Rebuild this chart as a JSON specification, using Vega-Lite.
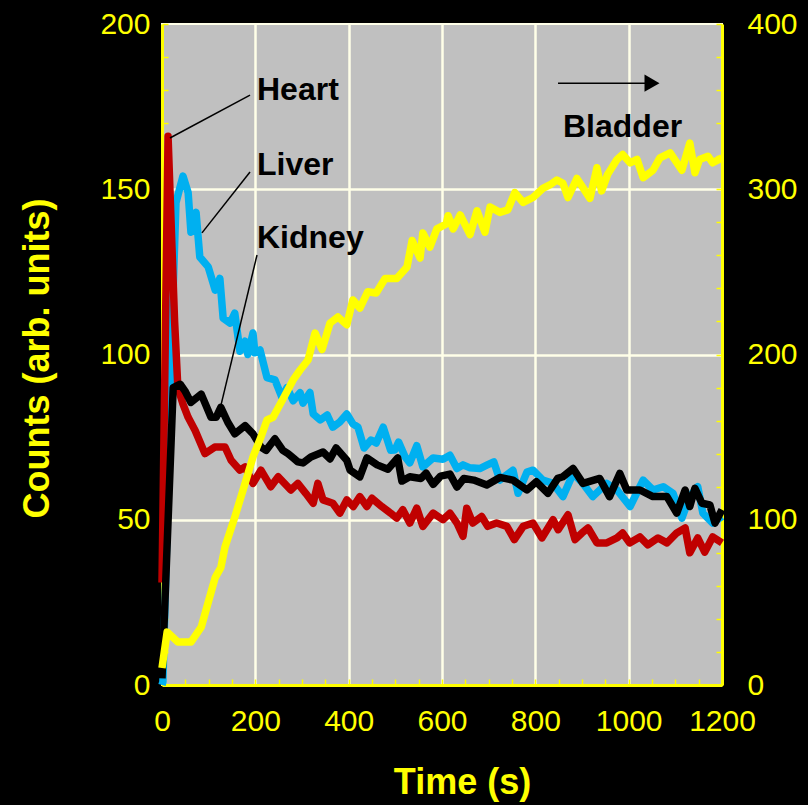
{
  "$schema": "https://vega.github.io/schema/vega-lite/v6.json",
  "width": 560,
  "height": 661,
  "autosize": {"type": "none"},
  "padding": {"left": 162, "top": 24, "right": 86, "bottom": 120},
  "background": "black",
  "config": {
    "view": {"fill": "#c0c0c0", "stroke": "#ffffe8", "strokeWidth": 2},
    "axis": {
      "labelFont": "Liberation Sans", "labelFontSize": 30, "labelColor": "#ffff00",
      "titleFont": "Liberation Sans", "titleFontSize": 36, "titleFontWeight": "bold", "titleColor": "#ffff00",
      "domainColor": "#ffff00", "domainWidth": 3, "tickColor": "#ffff00", "tickWidth": 1.5, "tickSize": -6,
      "gridColor": "#ffffe8", "gridWidth": 2.5, "labelOverlap": false, "labelBound": false, "labelFlush": false
    }
  },
  "datasets": {
    "heart": [{"t":0,"v":31},{"t":13,"v":166},{"t":27,"v":110},{"t":34,"v":90},{"t":45,"v":85},{"t":56,"v":81},{"t":71,"v":77},{"t":92,"v":70},{"t":113,"v":72},{"t":135,"v":72},{"t":148,"v":68},{"t":167,"v":65},{"t":178,"v":66},{"t":195,"v":61},{"t":212,"v":65},{"t":233,"v":60},{"t":249,"v":63},{"t":276,"v":59},{"t":291,"v":61},{"t":308,"v":58},{"t":324,"v":55},{"t":334,"v":61},{"t":345,"v":56},{"t":366,"v":55},{"t":381,"v":52},{"t":396,"v":56},{"t":410,"v":54},{"t":424,"v":57},{"t":439,"v":54},{"t":450,"v":56.5},{"t":471,"v":54},{"t":490,"v":52},{"t":503,"v":50.5},{"t":516,"v":53},{"t":531,"v":49},{"t":546,"v":53.5},{"t":559,"v":48},{"t":581,"v":52},{"t":602,"v":50},{"t":617,"v":52},{"t":632,"v":49},{"t":645,"v":45},{"t":653,"v":53.5},{"t":666,"v":49},{"t":685,"v":51},{"t":698,"v":48},{"t":717,"v":49},{"t":739,"v":48},{"t":755,"v":44},{"t":774,"v":48},{"t":795,"v":49},{"t":814,"v":44.5},{"t":838,"v":50},{"t":849,"v":47},{"t":870,"v":51.5},{"t":885,"v":44},{"t":900,"v":46},{"t":913,"v":47.5},{"t":932,"v":43},{"t":953,"v":43},{"t":975,"v":44.5},{"t":987,"v":46},{"t":1002,"v":43},{"t":1024,"v":44.8},{"t":1041,"v":42.4},{"t":1063,"v":44.5},{"t":1082,"v":43},{"t":1103,"v":46},{"t":1121,"v":47.5},{"t":1131,"v":40},{"t":1148,"v":44.5},{"t":1163,"v":40.2},{"t":1180,"v":44.8},{"t":1200,"v":43}],
    "liver": [{"t":0,"v":0},{"t":2,"v":1},{"t":17,"v":80},{"t":24,"v":120},{"t":30,"v":146},{"t":45,"v":154},{"t":56,"v":149},{"t":62,"v":137},{"t":73,"v":143},{"t":81,"v":129.5},{"t":99,"v":126.5},{"t":114,"v":119.5},{"t":124,"v":123},{"t":131,"v":111},{"t":146,"v":109.5},{"t":156,"v":112.5},{"t":167,"v":101},{"t":178,"v":104},{"t":184,"v":100},{"t":195,"v":106.5},{"t":199,"v":100.5},{"t":210,"v":101.4},{"t":225,"v":93},{"t":242,"v":92.3},{"t":257,"v":87},{"t":268,"v":90},{"t":281,"v":86},{"t":296,"v":88.4},{"t":302,"v":85.3},{"t":317,"v":88.5},{"t":324,"v":82},{"t":339,"v":80.2},{"t":354,"v":81.7},{"t":366,"v":78},{"t":381,"v":79.6},{"t":396,"v":82},{"t":409,"v":79},{"t":420,"v":78},{"t":433,"v":71.7},{"t":448,"v":74.1},{"t":459,"v":73.2},{"t":474,"v":78},{"t":490,"v":71},{"t":499,"v":71.1},{"t":507,"v":73.5},{"t":521,"v":69},{"t":531,"v":67.2},{"t":546,"v":72.4},{"t":559,"v":66},{"t":581,"v":68.7},{"t":602,"v":68.3},{"t":617,"v":69.5},{"t":632,"v":65.5},{"t":645,"v":66.6},{"t":660,"v":65.7},{"t":681,"v":65.5},{"t":696,"v":66.5},{"t":711,"v":67.5},{"t":724,"v":62},{"t":752,"v":65},{"t":763,"v":58},{"t":782,"v":64.4},{"t":795,"v":65},{"t":816,"v":62},{"t":838,"v":61},{"t":859,"v":57},{"t":881,"v":64},{"t":902,"v":61},{"t":923,"v":57},{"t":953,"v":61},{"t":975,"v":59},{"t":1003,"v":54},{"t":1031,"v":62},{"t":1052,"v":59},{"t":1074,"v":60},{"t":1095,"v":58},{"t":1114,"v":50.5},{"t":1131,"v":57},{"t":1148,"v":60},{"t":1159,"v":52},{"t":1180,"v":49},{"t":1200,"v":51}],
    "kidney": [{"t":0,"v":2},{"t":24,"v":90},{"t":39,"v":91},{"t":49,"v":89},{"t":62,"v":85.5},{"t":84,"v":88},{"t":105,"v":81},{"t":116,"v":81},{"t":126,"v":84},{"t":141,"v":79.5},{"t":156,"v":76},{"t":178,"v":78.5},{"t":195,"v":76},{"t":212,"v":72},{"t":223,"v":71},{"t":242,"v":74.5},{"t":259,"v":71},{"t":270,"v":70},{"t":281,"v":68.7},{"t":291,"v":67.5},{"t":302,"v":67.2},{"t":319,"v":69},{"t":345,"v":70.5},{"t":360,"v":68.4},{"t":373,"v":71.7},{"t":396,"v":68},{"t":403,"v":65},{"t":424,"v":63},{"t":439,"v":68.7},{"t":461,"v":66.6},{"t":484,"v":65.3},{"t":505,"v":68.7},{"t":514,"v":61.7},{"t":531,"v":63},{"t":555,"v":62.5},{"t":566,"v":64.1},{"t":581,"v":60.7},{"t":597,"v":63.2},{"t":617,"v":63.8},{"t":632,"v":59.9},{"t":647,"v":62.5},{"t":668,"v":62},{"t":696,"v":60.5},{"t":724,"v":62.8},{"t":752,"v":62},{"t":782,"v":59},{"t":802,"v":61.5},{"t":827,"v":58},{"t":848,"v":62.5},{"t":859,"v":63},{"t":881,"v":65.5},{"t":902,"v":61},{"t":938,"v":62.5},{"t":959,"v":57},{"t":981,"v":64},{"t":996,"v":59},{"t":1024,"v":59},{"t":1052,"v":57},{"t":1082,"v":57},{"t":1103,"v":52},{"t":1121,"v":59},{"t":1131,"v":54},{"t":1142,"v":59.5},{"t":1157,"v":55},{"t":1174,"v":54.5},{"t":1185,"v":49},{"t":1200,"v":53}],
    "bladder": [{"t":0,"v":10.3},{"t":11,"v":32},{"t":34,"v":26},{"t":62,"v":26},{"t":84,"v":35},{"t":99,"v":50},{"t":114,"v":65},{"t":126,"v":71},{"t":135,"v":83.5},{"t":156,"v":101.6},{"t":178,"v":122},{"t":195,"v":138},{"t":212,"v":150},{"t":225,"v":160.4},{"t":238,"v":162},{"t":263,"v":175},{"t":281,"v":184.6},{"t":296,"v":190.6},{"t":313,"v":196.7},{"t":328,"v":213},{"t":343,"v":203},{"t":360,"v":219},{"t":377,"v":222.7},{"t":396,"v":218},{"t":409,"v":233},{"t":424,"v":228.1},{"t":441,"v":238},{"t":459,"v":237.2},{"t":478,"v":246},{"t":503,"v":246},{"t":525,"v":253},{"t":536,"v":269},{"t":553,"v":258.4},{"t":559,"v":273.5},{"t":574,"v":265},{"t":589,"v":276},{"t":609,"v":279},{"t":613,"v":284},{"t":624,"v":276},{"t":639,"v":284.4},{"t":660,"v":272.5},{"t":675,"v":287},{"t":692,"v":274},{"t":703,"v":289.3},{"t":724,"v":286},{"t":741,"v":287.5},{"t":756,"v":298},{"t":774,"v":292},{"t":795,"v":295},{"t":816,"v":300.5},{"t":831,"v":302.6},{"t":846,"v":305.6},{"t":859,"v":303.6},{"t":870,"v":295},{"t":889,"v":306.5},{"t":902,"v":301},{"t":917,"v":294.5},{"t":932,"v":313},{"t":942,"v":299},{"t":955,"v":309},{"t":975,"v":318},{"t":987,"v":321},{"t":1003,"v":316},{"t":1018,"v":318},{"t":1031,"v":307},{"t":1052,"v":311.5},{"t":1067,"v":319},{"t":1089,"v":322},{"t":1114,"v":311.5},{"t":1131,"v":328},{"t":1142,"v":310},{"t":1152,"v":318},{"t":1170,"v":320},{"t":1180,"v":316},{"t":1200,"v":319}],
    "leaders": [
      {"t": 188.6, "v": 178.5, "t2": 17, "v2": 165.5},
      {"t": 188.6, "v": 155.2, "t2": 85.7, "v2": 136.8},
      {"t": 203.6, "v": 130.1, "t2": 126.4, "v2": 84.7},
      {"t": 848.6, "v": 182.1, "t2": 1040, "v2": 182.1}
    ],
    "arrowhead": [{"t": 1050, "v": 182.1}],
    "labels": [
      {"t": 203.6, "v": 177.0, "label": "Heart"},
      {"t": 203.6, "v": 154.3, "label": "Liver"},
      {"t": 203.6, "v": 132.2, "label": "Kidney"},
      {"t": 859.3, "v": 165.8, "label": "Bladder"}
    ]
  },
  "layer": [
    {
      "encoding": {
        "x": {"field": "t", "type": "quantitative", "scale": {"domain": [0, 1200], "nice": false},
          "axis": {
            "title": "Time (s)", "titleX": 300, "titleY": 108, "titleBaseline": "alphabetic", "titleAlign": "center",
            "values": [0,50,100,150,200,250,300,350,400,450,500,550,600,650,700,750,800,850,900,950,1000,1050,1100,1150,1200],
            "format": "d",
            "labelExpr": "datum.value % 200 === 0 ? datum.label : ''",
            "labelBaseline": "alphabetic", "labelPadding": 51,
            "gridOpacity": {"condition": {"test": "datum.value % 200 === 0 && datum.value > 0 && datum.value < 1200", "value": 1}, "value": 0}
          }
        },
        "y": {"field": "v", "type": "quantitative", "scale": {"domain": [0, 200], "nice": false},
          "axis": {
            "title": "Counts (arb. units)", "titleX": -114, "titleY": 334, "titleBaseline": "alphabetic", "titleAlign": "center", "titleAngle": -90,
            "values": [0,10,20,30,40,50,60,70,80,90,100,110,120,130,140,150,160,170,180,190,200],
            "format": "d",
            "labelExpr": "datum.value % 50 === 0 ? datum.label : ''",
            "labelPadding": 18,
            "gridOpacity": {"condition": {"test": "datum.value % 50 === 0 && datum.value > 0 && datum.value < 200", "value": 1}, "value": 0}
          }
        }
      },
      "layer": [
        {
          "data": {"name": "liver"},
          "mark": {"type": "line", "color": "#00b0f0", "strokeWidth": 7.5, "strokeJoin": "round"}
        },
        {
          "data": {"name": "heart"},
          "mark": {"type": "line", "color": "#c00000", "strokeWidth": 7.5, "strokeJoin": "round"}
        },
        {
          "data": {"name": "kidney"},
          "mark": {"type": "line", "color": "#000000", "strokeWidth": 7.5, "strokeJoin": "round"}
        },
        {
          "data": {"name": "leaders"},
          "mark": {"type": "rule", "color": "#000000", "strokeWidth": 1.5},
          "encoding": {
            "x2": {"field": "t2"},
            "y2": {"field": "v2"}
          }
        },
        {
          "data": {"name": "arrowhead"},
          "mark": {"type": "point", "shape": "triangle-right", "filled": true, "color": "#000000", "size": 300, "opacity": 1}
        },
        {
          "data": {"name": "labels"},
          "mark": {"type": "text", "font": "Liberation Sans", "fontSize": 32, "fontWeight": "bold", "color": "#000000", "align": "left", "baseline": "alphabetic"},
          "encoding": {
            "text": {"field": "label"}
          }
        }
      ]
    },
    {
      "data": {"name": "bladder"},
      "mark": {"type": "line", "color": "#ffff00", "strokeWidth": 7.5, "strokeJoin": "round"},
      "encoding": {
        "x": {"field": "t", "type": "quantitative", "scale": {"domain": [0, 1200], "nice": false},
          "axis": {
            "title": "Time (s)", "titleX": 300, "titleY": 108, "titleBaseline": "alphabetic", "titleAlign": "center",
            "values": [0,50,100,150,200,250,300,350,400,450,500,550,600,650,700,750,800,850,900,950,1000,1050,1100,1150,1200],
            "format": "d",
            "labelExpr": "datum.value % 200 === 0 ? datum.label : ''",
            "labelBaseline": "alphabetic", "labelPadding": 51,
            "gridOpacity": {"condition": {"test": "datum.value % 200 === 0 && datum.value > 0 && datum.value < 1200", "value": 1}, "value": 0}
          }
        },
        "y": {"field": "v", "type": "quantitative", "scale": {"domain": [0, 400], "nice": false},
          "axis": {
            "orient": "right", "title": null,
            "values": [0,20,40,60,80,100,120,140,160,180,200,220,240,260,280,300,320,340,360,380,400],
            "format": "d",
            "labelExpr": "datum.value % 100 === 0 ? datum.label : ''",
            "labelPadding": 31, "grid": false
          }
        }
      }
    }
  ],
  "resolve": {"scale": {"y": "independent"}}
}
